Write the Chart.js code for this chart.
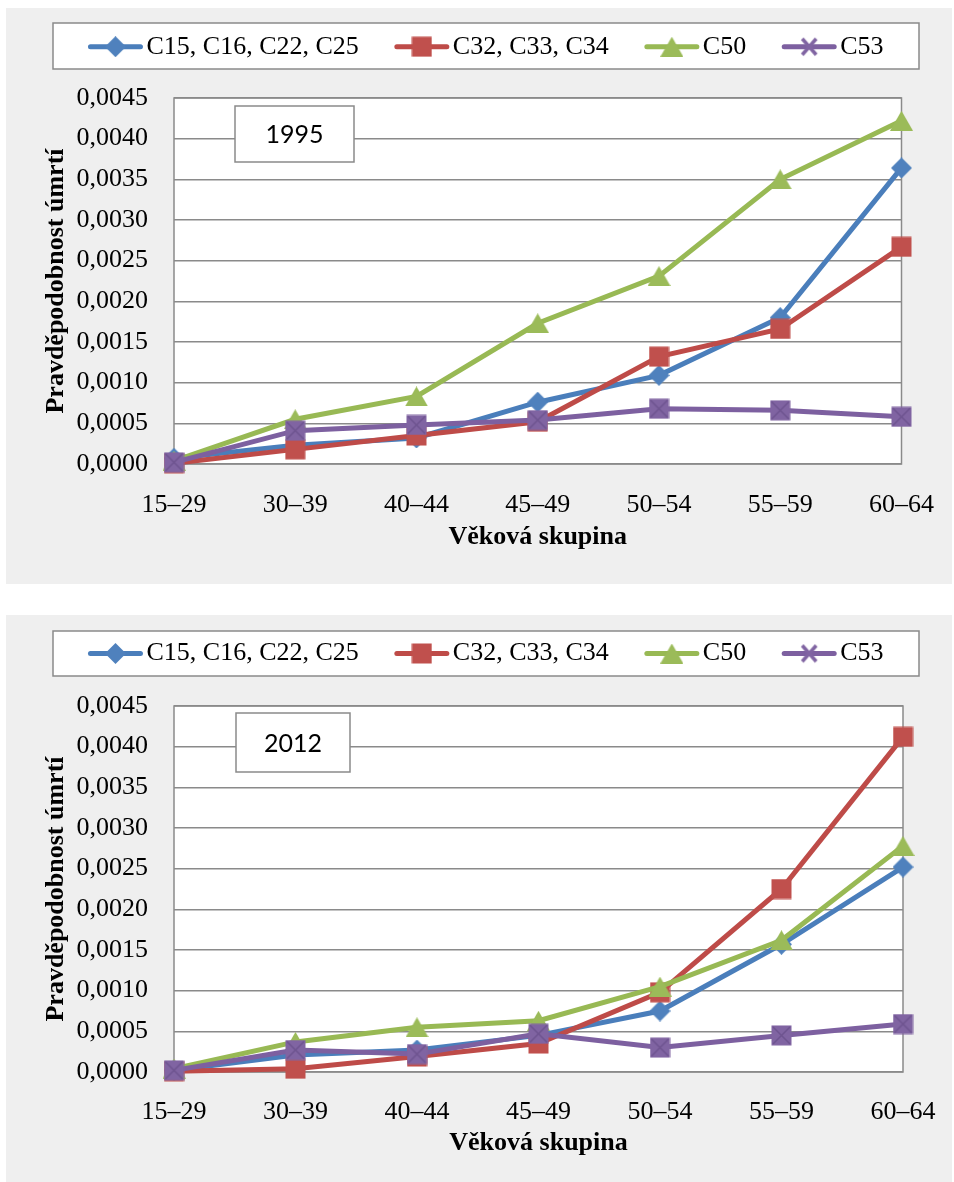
<!DOCTYPE html>
<html><head><meta charset="utf-8">
<script src="https://cdn.jsdelivr.net/npm/chart.js@4.4.1/dist/chart.umd.min.js"></script>
<style>
body{margin:0;background:#fff;width:954px;height:1182px;position:relative;overflow:hidden}
.panel{position:absolute;left:6px;width:946px;background:#efefef}
canvas{display:block}
</style></head><body>
<div class="panel" style="top:8px;height:576px"><canvas id="c1" width="946" height="576"></canvas></div>
<div class="panel" style="top:615px;height:567px"><canvas id="c2" width="946" height="567"></canvas></div>
<script>
// ---- data ----
const categories = ['15–29','30–39','40–44','45–49','50–54','55–59','60–64'];
const seriesNames = ['C15, C16, C22, C25','C32, C33, C34','C50','C53'];
const yTickValues = [0,0.0005,0.0010,0.0015,0.0020,0.0025,0.0030,0.0035,0.0040,0.0045];

const v1995_C15 = [0.00007,0.00023,0.00032,0.00076,0.00109,0.00180,0.00364];
const v1995_C32 = [0.00001,0.00018,0.00035,0.00052,0.00132,0.00166,0.00267];
const v1995_C50 = [0.00004,0.00055,0.00083,0.00173,0.00231,0.00350,0.00422];
const v1995_C53 = [0.00002,0.00041,0.00048,0.00054,0.00068,0.00066,0.00058];

const v2012_C15 = [0.00002,0.00021,0.00027,0.00045,0.00075,0.00157,0.00252];
const v2012_C32 = [0.00001,0.00004,0.00019,0.00035,0.00098,0.00225,0.00412];
const v2012_C50 = [0.00004,0.00037,0.00055,0.00063,0.00105,0.00162,0.00278];
const v2012_C53 = [0.00002,0.00027,0.00022,0.00047,0.00030,0.00045,0.00059];

// ---- styles ----
const lineColors = ['#4A7EBB','#BE4B48','#98B954','#7D60A0'];
const markerColors = ['#4F81BD','#C0504D','#9BBB59','#8064A2'];
const GRID = '#8a8a8a';
const SERIF = "'Liberation Serif', 'Times New Roman', serif";

function mk(w, h, draw){
  const c = document.createElement('canvas'); c.width = w; c.height = h;
  const g = c.getContext('2d'); draw(g); return c;
}
const markers = [
  mk(21,21,g=>{g.fillStyle=markerColors[0];g.beginPath();g.moveTo(10.5,0);g.lineTo(21,10.5);g.lineTo(10.5,21);g.lineTo(0,10.5);g.closePath();g.fill();}),
  mk(21,21,g=>{g.fillStyle=markerColors[1];g.fillRect(0.5,0.5,20,20);}),
  mk(23,20,g=>{g.fillStyle=markerColors[2];g.beginPath();g.moveTo(11.5,0);g.lineTo(23,20);g.lineTo(0,20);g.closePath();g.fill();}),
  mk(21,21,g=>{g.fillStyle=markerColors[3];g.fillRect(0.5,0.5,20,20);g.strokeStyle='#6e5490';g.lineWidth=1.5;g.beginPath();g.moveTo(2,2);g.lineTo(19,19);g.moveTo(19,2);g.lineTo(2,19);g.stroke();})
];
const legendMarkers = [markers[0], markers[1], markers[2],
  mk(20,20,g=>{g.strokeStyle=markerColors[3];g.lineWidth=3.5;g.beginPath();g.moveTo(3,2);g.lineTo(17,18);g.moveTo(17,2);g.lineTo(3,18);g.stroke();})
];

const panelPlugin = {
  id: 'panelDeco',
  beforeDraw(chart){
    const {ctx, chartArea:a} = chart;
    ctx.save(); ctx.fillStyle = '#fff'; ctx.fillRect(a.left, a.top, a.right-a.left, a.bottom-a.top); ctx.restore();
  },
  beforeDatasetsDraw(chart){
    const {ctx, chartArea:a} = chart;
    ctx.save(); ctx.strokeStyle = GRID; ctx.lineWidth = 1.5;
    ctx.strokeRect(a.left, a.top, a.right-a.left, a.bottom-a.top); ctx.restore();
  },
  afterDraw(chart, args, o){
    const ctx = chart.ctx;
    ctx.save();
    const lb = o.legendBox;
    ctx.fillStyle = '#fff'; ctx.fillRect(lb.x, lb.y, lb.w, lb.h);
    ctx.strokeStyle = GRID; ctx.lineWidth = 1.5; ctx.strokeRect(lb.x, lb.y, lb.w, lb.h);
    ctx.font = '26px ' + SERIF; ctx.textBaseline = 'middle'; ctx.textAlign = 'left'; ctx.fillStyle = '#000';
    const lineLen = 54, gapT = 4, gapItem = 36;
    const items = chart.data.datasets.map((d,i)=>({label:d.label, i, tw: ctx.measureText(d.label).width}));
    const total = items.reduce((s,it)=>s+lineLen+gapT+it.tw,0) + gapItem*(items.length-1);
    let x = lb.x + (lb.w - total)/2;
    const cy = lb.y + lb.h/2 + o.legendDy;
    items.forEach(it=>{
      ctx.strokeStyle = lineColors[it.i]; ctx.lineWidth = 5; ctx.lineCap = 'round';
      ctx.beginPath(); ctx.moveTo(x+2, cy); ctx.lineTo(x+lineLen-2, cy); ctx.stroke();
      const m = legendMarkers[it.i];
      ctx.drawImage(m, x+lineLen/2-m.width/2, cy-m.height/2);
      ctx.fillStyle = '#000';
      ctx.fillText(it.label, x+lineLen+gapT, cy);
      x += lineLen + gapT + it.tw + gapItem;
    });
    const yb = o.yearBox;
    ctx.fillStyle = '#fff'; ctx.fillRect(yb.x, yb.y, yb.w, yb.h);
    ctx.strokeStyle = GRID; ctx.lineWidth = 1.5; ctx.strokeRect(yb.x, yb.y, yb.w, yb.h);
    ctx.fillStyle = '#000'; ctx.font = "25px Lato, 'Liberation Sans', sans-serif";
    ctx.textAlign = 'center'; ctx.textBaseline = 'middle';
    ctx.fillText(o.yearText, yb.x + yb.w/2, yb.y + yb.h/2 + 1);
    ctx.restore();
  }
};

function buildChart(id, data, cfg){
  const datasets = seriesNames.map((name,i)=>({
    label: name, data: data[i],
    borderColor: lineColors[i], backgroundColor: markerColors[i],
    borderWidth: 5, pointStyle: markers[i], pointRadius: 10, pointHoverRadius: 10,
    clip: false, order: 4 - i, tension: 0, fill: false
  }));
  return new Chart(document.getElementById(id), {
    type: 'line',
    data: { labels: categories, datasets },
    options: {
      responsive: false, animation: false, events: [],
      layout: { padding: { top: cfg.top, right: 48, left: 0, bottom: 0 } },
      plugins: {
        legend: { display: false }, tooltip: { enabled: false },
        panelDeco: { legendBox: cfg.legendBox, legendDy: cfg.legendDy, yearBox: cfg.yearBox, yearText: cfg.yearText }
      },
      scales: {
        x: {
          type: 'category', offset: false,
          grid: { display: false }, border: { display: false },
          ticks: { color: '#000', font: { family: SERIF, size: 26 }, padding: cfg.xPad, maxRotation: 0, autoSkip: false },
          title: { display: true, text: 'Věková skupina', color: '#000',
                   font: { family: SERIF, size: 26, weight: 'bold' }, padding: { top: 0, bottom: cfg.xTitlePad } },
          afterFit: s => { s.height = cfg.xH; }
        },
        y: {
          min: 0, max: 0.0045,
          afterBuildTicks: s => { s.ticks = yTickValues.map(v => ({ value: v })); },
          grid: { color: GRID, lineWidth: 1.5, drawTicks: false }, border: { display: false },
          ticks: { color: '#000', font: { family: SERIF, size: 26 }, padding: 26,
                   callback: v => Number(v).toFixed(4).replace('.', ',') },
          title: { display: true, text: 'Pravděpodobnost úmrtí', color: '#000',
                   font: { family: SERIF, size: 26, weight: 'bold' }, padding: { top: 34.4, bottom: 0 } },
          afterFit: s => { s.width = 168; }
        }
      }
    },
    plugins: [panelPlugin]
  });
}

buildChart('c1', [v1995_C15, v1995_C32, v1995_C50, v1995_C53], {
  top: 90, xH: 120, xPad: 18, xTitlePad: 31.4,
  legendBox: { x: 47, y: 15, w: 866, h: 46 }, legendDy: 0.7,
  yearBox: { x: 229, y: 98, w: 119, h: 56 }, yearText: '1995'
});
buildChart('c2', [v2012_C15, v2012_C32, v2012_C50, v2012_C53], {
  top: 91, xH: 110, xPad: 16.5, xTitlePad: 23.4,
  legendBox: { x: 47, y: 16, w: 866, h: 45 }, legendDy: 0,
  yearBox: { x: 230, y: 98, w: 114, h: 59 }, yearText: '2012'
});
</script>
</body></html>
